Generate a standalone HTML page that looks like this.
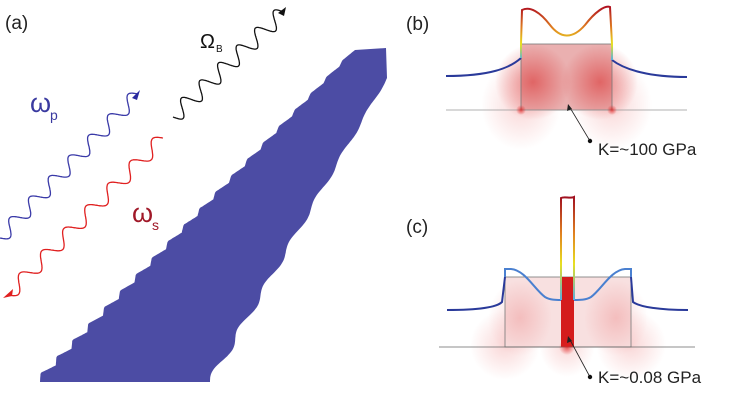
<!DOCTYPE html>
<html><head><meta charset="utf-8"><style>
html,body{margin:0;padding:0;background:#fff;}
svg{display:block;font-family:"Liberation Sans",sans-serif;}
</style></head><body>
<svg id="s" width="749" height="403" viewBox="0 0 749 403" xmlns="http://www.w3.org/2000/svg">
<defs>
<radialGradient id="g1"><stop offset="0" stop-color="#e02020" stop-opacity="0.75"/><stop offset="1" stop-color="#e02020" stop-opacity="0"/></radialGradient>
<radialGradient id="g2"><stop offset="0" stop-color="#e02020" stop-opacity="0.18"/><stop offset="1" stop-color="#e02020" stop-opacity="0"/></radialGradient>
<radialGradient id="g3"><stop offset="0" stop-color="#d82828" stop-opacity="0.55"/><stop offset="1" stop-color="#d82828" stop-opacity="0"/></radialGradient>
<linearGradient id="tb" x1="0" y1="1" x2="0" y2="0"><stop offset="0" stop-color="#5ab0e0"/><stop offset="0.3" stop-color="#e8e020"/><stop offset="0.6" stop-color="#e08020"/><stop offset="1" stop-color="#b01020"/></linearGradient>
<linearGradient id="tc" x1="0" y1="1" x2="0" y2="0"><stop offset="0" stop-color="#5ab0e0"/><stop offset="0.35" stop-color="#e8e020"/><stop offset="0.65" stop-color="#e08020"/><stop offset="1" stop-color="#a01020"/></linearGradient>
</defs>
<text x="5" y="29" font-size="19" fill="#222">(a)</text>
<text x="406" y="30" font-size="19" fill="#222">(b)</text>
<text x="406" y="233" font-size="19" fill="#222">(c)</text>
<g id="wg"></g>
<path id="wb" fill="none" stroke="#3a3aa8" stroke-width="1.3"/>
<path id="wr" fill="none" stroke="#e02020" stroke-width="1.3"/>
<path id="wk" fill="none" stroke="#111" stroke-width="1.3"/>
<polygon points="140,90 132,98 137,100" fill="#2a2aa0"/>
<polygon points="3,298 13,289 12,296" fill="#e02020"/>
<polygon points="286,7 278,13 284,16" fill="#111"/>
<text x="30" y="112" font-size="27" fill="#3a3aa0">ω</text><text x="50" y="120" font-size="14" fill="#3a3aa0">p</text>
<text x="132" y="222" font-size="27" fill="#a01828">ω</text><text x="152" y="230" font-size="14" fill="#a01828">s</text>
<text x="200" y="48" font-size="20" fill="#111">Ω</text><text x="216" y="52" font-size="10" fill="#111">B</text>
<!-- (b) -->
<ellipse cx="521" cy="105" rx="40" ry="45" fill="url(#g2)"/>
<ellipse cx="612" cy="105" rx="40" ry="45" fill="url(#g2)"/>
<rect x="521" y="44" width="91" height="66" fill="#eab0b0"/>
<ellipse cx="533" cy="82" rx="38" ry="38" fill="url(#g3)"/>
<ellipse cx="600" cy="82" rx="38" ry="38" fill="url(#g3)"/>
<rect x="521" y="44" width="91" height="66" fill="none" stroke="#777" stroke-width="0.8"/>
<line x1="446" y1="110" x2="687" y2="110" stroke="#999" stroke-width="0.8"/>
<circle cx="521" cy="110" r="5" fill="url(#g1)"/><circle cx="612" cy="110" r="5" fill="url(#g1)"/>
<path d="M446 76 C490 76 510 68 521 58" fill="none" stroke="#2a3a9a" stroke-width="2"/>
<path d="M612 60 C625 70 650 77 687 77" fill="none" stroke="#2a3a9a" stroke-width="2"/>
<path d="M521 58 L521 44 L522 10 C530 6 540 12 550 25 C560 38 572 40 585 25 C595 12 605 5 610 7 L612 44 L612 60" fill="none" stroke="url(#tb)" stroke-width="2"/>
<line x1="590" y1="141" x2="569" y2="106" stroke="#222" stroke-width="0.8"/>
<polygon points="568,104 567,111 572,109" fill="#222"/>
<circle cx="590" cy="141" r="2.2" fill="#111"/>
<text x="598" y="155" font-size="17" fill="#222">K=~100 GPa</text>
<!-- (c) -->
<ellipse cx="505" cy="345" rx="35" ry="35" fill="url(#g2)"/>
<ellipse cx="631" cy="345" rx="35" ry="35" fill="url(#g2)"/>
<ellipse cx="567" cy="345" rx="28" ry="32" fill="url(#g2)"/>
<rect x="505" y="277" width="126" height="70" fill="#f8e0e0"/>
<ellipse cx="520" cy="318" rx="32" ry="38" fill="url(#g2)"/>
<ellipse cx="616" cy="318" rx="32" ry="38" fill="url(#g2)"/>
<rect x="505" y="277" width="126" height="70" fill="none" stroke="#777" stroke-width="0.8"/>
<rect x="561" y="277" width="13" height="70" fill="#d41c1c"/>
<line x1="439" y1="347" x2="695" y2="347" stroke="#666" stroke-width="0.8"/>
<circle cx="567" cy="347" r="8" fill="url(#g1)"/>
<path d="M447 310 C480 310 497 307 502 302 L505 277" fill="none" stroke="#2a3a9a" stroke-width="2"/>
<path d="M631 277 L633 302 C640 307 660 310 688 310" fill="none" stroke="#2a3a9a" stroke-width="2"/>
<path d="M505 277 L505 269 L511 269 C525 270 535 290 545 297 C550 300 556 300 561 300" fill="none" stroke="#4a80d0" stroke-width="2"/>
<path d="M574 300 C580 300 586 300 591 297 C601 290 611 270 625 269 L631 269 L631 277" fill="none" stroke="#4a80d0" stroke-width="2"/>
<path d="M561 300 L561 198 C565 196 570 199 574 197 L574 300" fill="none" stroke="url(#tc)" stroke-width="2"/>
<line x1="590" y1="377" x2="569" y2="338" stroke="#222" stroke-width="0.8"/>
<polygon points="568,336 567,343 572,341" fill="#222"/>
<circle cx="590" cy="377" r="2.2" fill="#111"/>
<text x="598" y="383" font-size="17" fill="#222">K=~0.08 GPa</text>
</svg>
<script>
function wave(id,ax,ay,bx,by,n,amp){
 var dx=bx-ax,dy=by-ay,L=Math.hypot(dx,dy),ux=dx/L,uy=dy/L,px=-uy,py=ux,d="";
 for(var i=0;i<=400;i++){var t=i/400,s=Math.sin(t*n*2*Math.PI)*amp;
  var x=ax+dx*t+px*s,y=ay+dy*t+py*s;d+=(i?"L":"M")+x.toFixed(1)+" "+y.toFixed(1);}
 document.getElementById(id).setAttribute("d",d);}
wave("wb",0,238,138,94,7,7);
wave("wr",163,138,8,295,7,7);
wave("wk",173,117,284,12,6,8);
var g=document.getElementById("wg"),ns="http://www.w3.org/2000/svg";
var d="M40 382 ";
for(var i=0;i<=300;i++){var t=i/300;var x=40+(355-40)*t,y=382+(50-382)*t;
 var ph=(t*20)%1; var s=(ph<0.3?ph/0.3:1-(ph-0.3)/0.7)*(6-4*t);
 x-=s*0.7;y-=s*0.7; d+="L"+x.toFixed(1)+" "+y.toFixed(1)+" ";}
d+="L386 48 L387 78 ";
for(var i=0;i<=200;i++){var t=i/200;var x=387+(210-387)*t,y=78+(382-78)*t;
 var s=Math.sin(t*14*Math.PI)*(1+3*t);d+="L"+(x+s).toFixed(1)+" "+y.toFixed(1)+" ";}
d+="Z";
var p=document.createElementNS(ns,"path");p.setAttribute("d",d);p.setAttribute("fill","#4c4ca4");g.appendChild(p);
</script>
</body></html>
